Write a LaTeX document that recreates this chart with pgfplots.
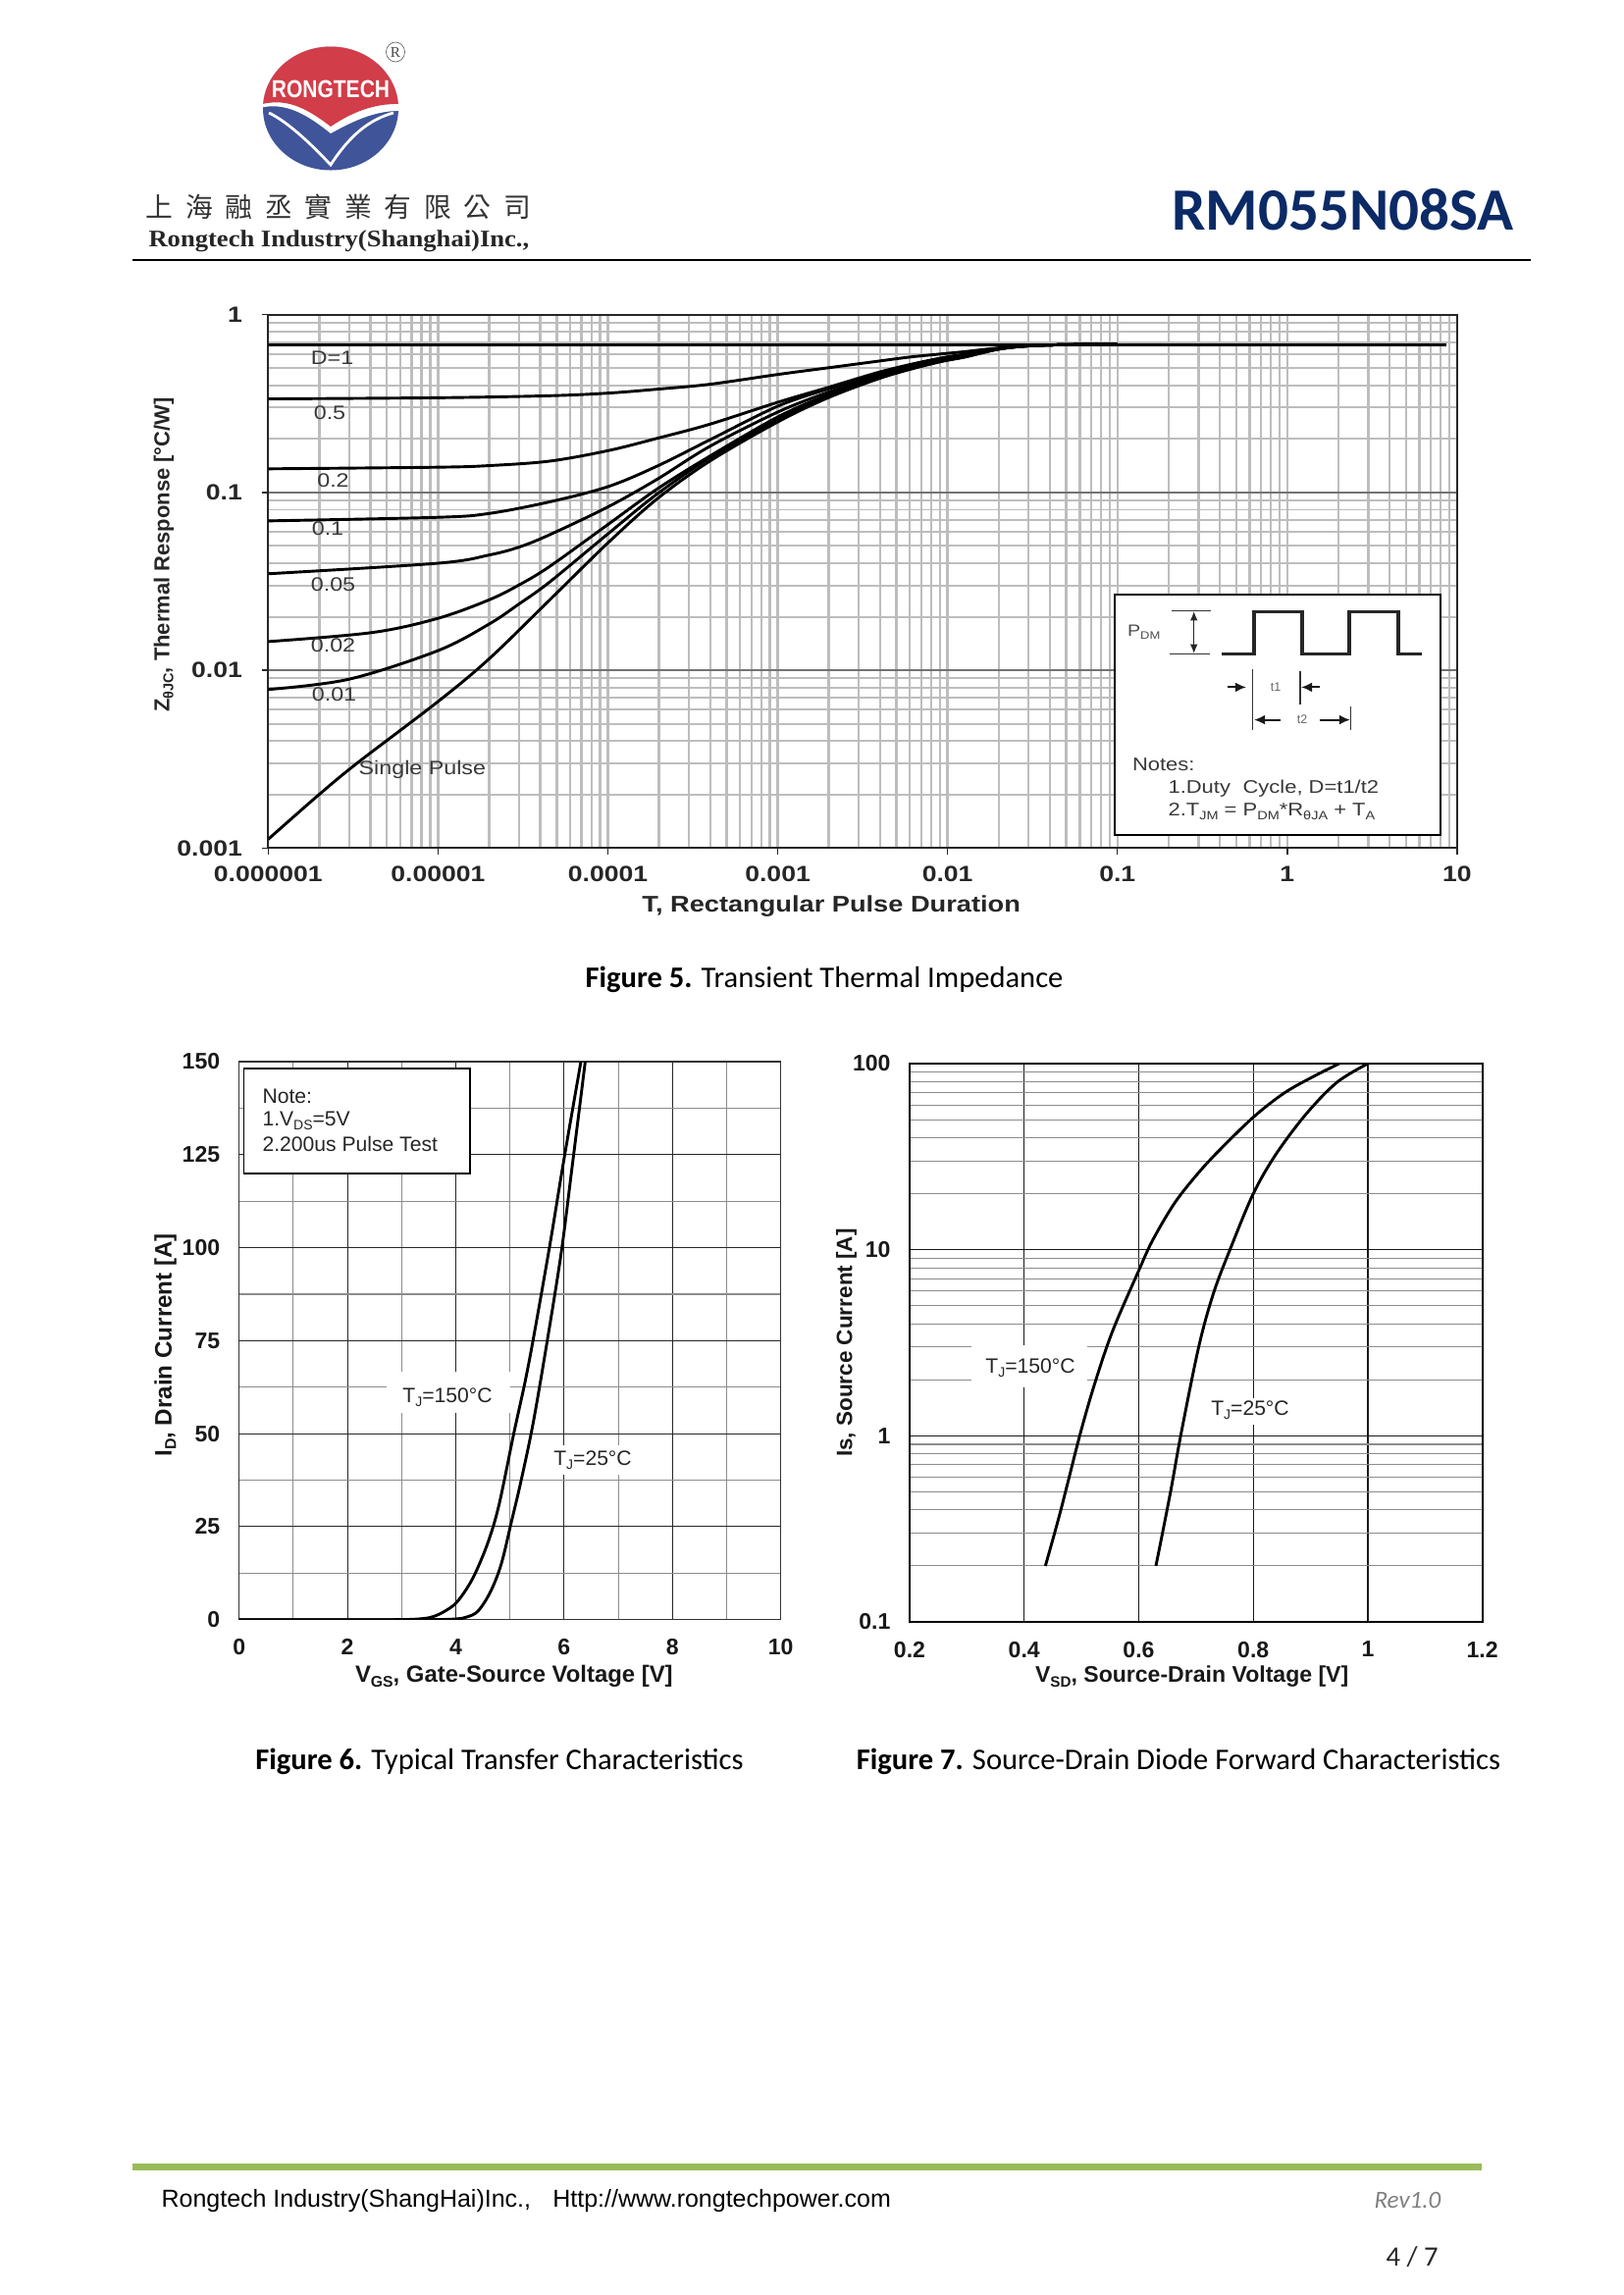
\documentclass[border=0pt]{standalone}
\usepackage{fontspec}
\usepackage{pgfplots}
\pgfplotsset{compat=1.18}
\usetikzlibrary{arrows.meta}
\setmainfont{Liberation Sans}
\newfontfamily\stretchf{Liberation Sans}[FakeStretch=1.18]
\newfontfamily\calib{Carlito}
\newfontfamily\serifb{Liberation Serif}
\newfontfamily\cjk{Noto Sans CJK TC}
\newcommand\fs[1]{\fontsize{#1}{#1}\selectfont}
\newcommand\sub[1]{\raisebox{-.35ex}{\scalebox{.66}{#1}}}
\definecolor{lred}{HTML}{D13D49}
\definecolor{lblue}{HTML}{40549A}
\definecolor{titleblue}{HTML}{0B2A66}
\definecolor{greenbar}{HTML}{9BBB59}
\definecolor{gridg}{HTML}{BDBDBD}
\tikzset{curve/.style={black,solid,mark=none,line width=1.05pt,smooth,tension=0.55,line join=round}}
\begin{document}
\begin{tikzpicture}
\begin{scope}[x=0.36pt,y=-0.36pt]
\fill[white] (0,0) rectangle (1654,2339);
% logo
\begin{scope}
\clip (337,110.5) ellipse [x radius=69, y radius=63];
\fill[lblue] (260,40) rectangle (410,180);
\fill[white] (260,111) .. controls (285,104) and (305,110) .. (337,136) .. controls (362,122) and (385,112) .. (410,113) -- (410,40) -- (260,40) -- cycle;
\fill[lred] (260,108) .. controls (285,100) and (305,104) .. (337,129) .. controls (362,112) and (385,105) .. (410,106) -- (410,40) -- (260,40) -- cycle;
\draw[white,line width=1pt] (274,115) .. controls (295,125) and (320,150) .. (337,168) .. controls (355,140) and (375,122) .. (401,115);
\end{scope}
\node[text=white,inner sep=0pt] at (337,91) {\fs{7.2}\bfseries\scalebox{1.05}[1.25]{RONGTECH}};
\draw[black!60,line width=.25pt] (403,53) ellipse [x radius=9.5, y radius=10];
\node[inner sep=0pt,text=black!70] at (403,53) {\serifb\fs{5.5}R};
% company name
\node[anchor=west,inner sep=0pt,text=black!80] at (148,211) {\cjk\fs{10}上\hspace{4.6pt}海\hspace{4.6pt}融\hspace{4.6pt}丞\hspace{4.6pt}實\hspace{4.6pt}業\hspace{4.6pt}有\hspace{4.6pt}限\hspace{4.6pt}公\hspace{4.6pt}司};
\node[anchor=west,inner sep=0pt,text=black!85] at (151,246) {\serifb\bfseries\fs{8.7}\scalebox{1.1}[1]{Rongtech Industry(Shanghai)Inc.,}};
\node[anchor=east,inner sep=0pt,text=titleblue] at (1543,214) {\calib\bfseries\fs{22}RM055N08SA};
\draw[black,line width=.8pt] (135,265) -- (1560,265);
% captions
\node[inner sep=0pt] at (840,998) {\calib\fs{11}\textbf{Figure 5.} Transient Thermal Impedance};
\node[inner sep=0pt] at (509,1795) {\calib\fs{11}\textbf{Figure 6.} Typical Transfer Characteristics};
\node[inner sep=0pt] at (1201,1795) {\calib\fs{11}\textbf{Figure 7.} Source-Drain Diode Forward Characteristics};
% footer
\fill[greenbar] (135,2205) rectangle (1510,2212);
\node[anchor=west,inner sep=0pt] at (164,2243.5) {\fs{9}Rongtech Industry(ShangHai)Inc.,\hspace{8pt}Http://www.rongtechpower.com};
\node[anchor=west,inner sep=0pt,text=black!50] at (1400,2242) {\calib\itshape\fs{9}Rev1.0};
\node[anchor=west,inner sep=0pt,text=black!85] at (1412,2300) {\calib\fs{10.3}4 / 7};
\end{scope}

% ---------------- Figure 5
\begin{axis}[
  at={(98.39pt,-311.15pt)},anchor=south west,scale only axis,
  width=436.2pt,height=195.7pt,
  xmode=log,ymode=log,
  xmin=1e-6,xmax=10,ymin=0.001,ymax=1,
  xtick={1e-6,1e-5,1e-4,1e-3,1e-2,1e-1,1,10},
  xticklabels={0.000001,0.00001,0.0001,0.001,0.01,0.1,1,10},
  ytick={0.001,0.01,0.1,1},
  yticklabels={0.001,0.01,0.1,1},
  minor xtick={2e-6,3e-6,4e-6,5e-6,6e-6,7e-6,8e-6,9e-6,2e-5,3e-5,4e-5,5e-5,6e-5,7e-5,8e-5,9e-5,2e-4,3e-4,4e-4,5e-4,6e-4,7e-4,8e-4,9e-4,2e-3,3e-3,4e-3,5e-3,6e-3,7e-3,8e-3,9e-3,2e-2,3e-2,4e-2,5e-2,6e-2,7e-2,8e-2,9e-2,0.2,0.3,0.4,0.5,0.6,0.7,0.8,0.9,2,3,4,5,6,7,8,9},
  minor ytick={2e-3,3e-3,4e-3,5e-3,6e-3,7e-3,8e-3,9e-3,2e-2,3e-2,4e-2,5e-2,6e-2,7e-2,8e-2,9e-2,0.2,0.3,0.4,0.5,0.6,0.7,0.8,0.9},
  grid=both,
  minor x grid style={gridg,line width=.85pt},
  major x grid style={gridg,line width=.85pt},
  minor y grid style={gridg,line width=.7pt},
  major y grid style={black!55,line width=.7pt},
  axis line style={black!85,line width=.6pt},
  tick style={black!85,line width=.5pt},
  major tick length=2.4pt,minor tick length=0pt,
  tick align=outside,xtick pos=bottom,ytick pos=left,
  tick label style={font=\stretchf\bfseries\fs{8.1},text=black!85},
  xticklabel style={yshift=-0.9pt},
  yticklabel style={xshift=-3.6pt},
  xlabel={\bfseries T, Rectangular Pulse Duration},
  xlabel style={font=\stretchf\fs{8.3},text=black!85,at={(axis description cs:0.5,0)},anchor=center,xshift=-11.5pt,yshift=-21.2pt},
  ylabel={\bfseries Z\sub{θJC}, Thermal Response [°C/W]},
  ylabel style={font=\fs{7.9},text=black!85,at={(axis description cs:0,0.5)},anchor=center,xshift=9.7pt,yshift=38.3pt},
]
\addplot[curve] coordinates {(1e-6,0.68) (1e-5,0.68) (1e-4,0.68) (1e-3,0.68) (1e-2,0.68) (1e-1,0.68) (1,0.68) (8.7,0.68)};
\addplot[curve] coordinates {(1e-6,0.336) (1e-5,0.341) (4.53e-5,0.350) (1e-4,0.362) (1.954e-4,0.381) (3.98e-4,0.406) (1e-3,0.461) (1.963e-3,0.502) (3.82e-3,0.546) (5.94e-3,0.577) (9.27e-3,0.602) (0.0127,0.62) (0.02,0.65) (0.03,0.668) (0.05,0.678) (0.1,0.68)};
\addplot[curve] coordinates {(1e-6,0.1358) (1e-5,0.1387) (2e-5,0.1416) (4.53e-5,0.150) (1e-4,0.1718) (1.954e-4,0.2017) (3.98e-4,0.242) (1e-3,0.3215) (1.963e-3,0.389) (3.82e-3,0.4706) (5.94e-3,0.523) (9.27e-3,0.572) (0.0127,0.60) (0.02,0.645) (0.03,0.668) (0.05,0.678) (0.1,0.68)};
\addplot[curve] coordinates {(1e-6,0.0692) (1e-5,0.0725) (2e-5,0.0762) (4.53e-5,0.0885) (1e-4,0.1078) (1.954e-4,0.1408) (3.98e-4,0.1976) (1e-3,0.3056) (1.963e-3,0.381) (3.82e-3,0.461) (5.94e-3,0.517) (9.27e-3,0.568) (0.0127,0.595) (0.02,0.643) (0.03,0.668) (0.05,0.678) (0.1,0.68)};
\addplot[curve] coordinates {(1e-6,0.0349) (1e-5,0.04) (2e-5,0.0445) (3e-5,0.0493) (4.53e-5,0.0578) (1e-4,0.0829) (1.954e-4,0.1188) (3.98e-4,0.1816) (1e-3,0.2832) (1.963e-3,0.3652) (3.82e-3,0.4513) (5.94e-3,0.508) (9.27e-3,0.5576) (0.0127,0.59) (0.02,0.642) (0.03,0.668) (0.05,0.678) (0.1,0.68)};
\addplot[curve] coordinates {(1e-6,0.0145) (4.09e-6,0.0163) (1e-5,0.0196) (2e-5,0.0249) (3e-5,0.0302) (4.53e-5,0.0383) (1e-4,0.066) (1.954e-4,0.1047) (3.98e-4,0.16) (1e-3,0.2658) (1.963e-3,0.353) (3.82e-3,0.4418) (5.94e-3,0.5017) (9.27e-3,0.553) (0.0127,0.585) (0.02,0.641) (0.03,0.668) (0.05,0.678) (0.1,0.68)};
\addplot[curve] coordinates {(1e-6,0.0078) (2.98e-6,0.0089) (1e-5,0.0129) (2e-5,0.0182) (3e-5,0.0236) (4.53e-5,0.0313) (1e-4,0.0585) (1.954e-4,0.0982) (3.98e-4,0.1565) (1e-3,0.258) (1.963e-3,0.347) (3.82e-3,0.436) (5.94e-3,0.4974) (9.27e-3,0.5483) (0.0127,0.58) (0.02,0.64) (0.03,0.668) (0.05,0.678) (0.1,0.68)};
\addplot[curve] coordinates {(1e-6,0.00112) (1.97e-6,0.00198) (3.38e-6,0.00303) (1e-5,0.00667) (2e-5,0.0116) (4.53e-5,0.0248) (1e-4,0.052) (1.954e-4,0.0922) (3.98e-4,0.15) (1e-3,0.2493) (1.963e-3,0.3397) (3.82e-3,0.4325) (5.94e-3,0.491) (9.27e-3,0.546) (0.0127,0.578) (0.02,0.64) (0.03,0.668) (0.05,0.678) (0.1,0.68)};
\end{axis}

\begin{scope}[x=0.36pt,y=-0.36pt]
\tikzset{lab/.style={inner sep=0pt,text=black!78,font=\stretchf\fs{7.1}}}
\node[lab] at (338.6,365) {D=1};
\node[lab] at (336,421) {0.5};
\node[lab] at (339.5,490) {0.2};
\node[lab] at (334,539) {0.1};
\node[lab] at (339.5,596) {0.05};
\node[lab] at (339.5,658) {0.02};
\node[lab] at (340.5,707.5) {0.01};
\node[lab] at (430.4,784) {Single Pulse};
% inset
\filldraw[fill=white,draw=black,line width=.7pt] (1136.3,606) rectangle (1468,851);
\draw[black!85,line width=1.15pt] (1245,666.8) -- (1278,666.8) -- (1278,623.7) -- (1327,623.7) -- (1327,666.8) -- (1375,666.8) -- (1375,623.7) -- (1425,623.7) -- (1425,666.8) -- (1448.6,666.8);
\draw[black!80,line width=.55pt] (1194,622.4) -- (1234,622.4) (1192,666.4) -- (1233,666.4);
\draw[black!85,line width=.5pt,{Latex[length=3.4pt,width=2.8pt]}-{Latex[length=3.4pt,width=2.8pt]}] (1216.7,623) -- (1216.7,666);
\node[inner sep=0pt,text=black!70] at (1165.7,644.4) {\stretchf\fs{6}P\sub{DM}};
\draw[black!80,line width=.45pt] (1276.7,681.7) -- (1276.7,744) (1325,683.8) -- (1325,718) (1376.7,720) -- (1376.7,744);
\draw[black!90,line width=.75pt,-{Latex[length=4pt,width=3.6pt]}] (1250.6,700.4) -- (1270,700.4);
\draw[black!90,line width=.75pt,-{Latex[length=4pt,width=3.6pt]}] (1345,700.4) -- (1326,700.4);
\draw[black!90,line width=.75pt,-{Latex[length=4pt,width=3.6pt]}] (1304.5,733.6) -- (1278,733.6);
\draw[black!90,line width=.75pt,-{Latex[length=4pt,width=3.6pt]}] (1344.5,733.6) -- (1376,733.6);
\node[inner sep=0pt,text=black!60] at (1300,700) {\fs{4.5}t1};
\node[inner sep=0pt,text=black!60] at (1327,733.6) {\fs{4.5}t2};
\node[lab,anchor=west,font=\stretchf\fs{6.7}] at (1153.5,779) {Notes:};
\node[lab,anchor=west,font=\stretchf\fs{6.7}] at (1190,803.3) {1.Duty\hspace{.35em} Cycle, D=t1/t2};
\node[lab,anchor=west,font=\stretchf\fs{6.7}] at (1190,827) {2.T\sub{JM} = P\sub{DM}*R\sub{θJA} + T\sub{A}};
\end{scope}

% ---------------- Figure 6
\begin{axis}[
  at={(87.73pt,-594.25pt)},anchor=south west,scale only axis,
  width=198.72pt,height=204.73pt,
  xmin=0,xmax=10,ymin=0,ymax=150,
  xtick={0,2,4,6,8,10},xticklabels={0,2,4,6,8,10},
  ytick={0,25,50,75,100,125,150},yticklabels={0,25,50,75,100,125,150},
  minor xtick={1,3,5,7,9},
  minor ytick={12.5,37.5,62.5,87.5,112.5,137.5},
  grid=both,
  minor grid style={black!45,line width=.4pt},
  major grid style={black!85,line width=.4pt},
  axis line style={black!80,line width=.5pt},
  major tick length=0pt,minor tick length=0pt,
  tick label style={font=\bfseries\fs{8.3},text=black!90},
  xticklabel style={yshift=-3.6pt},
  yticklabel style={xshift=-3.5pt},
  xlabel={\bfseries V\sub{GS}, Gate-Source Voltage [V]},
  xlabel style={font=\fs{8.6},text=black!90,at={(axis description cs:0.5,0)},anchor=center,xshift=1.5pt,yshift=-20.8pt},
  ylabel={\bfseries I\sub{D}, Drain Current [A]},
  ylabel style={font=\fs{8.7},text=black!90,at={(axis description cs:0,0.5)},anchor=center,xshift=-1.6pt,yshift=27pt},
]
\addplot[curve] coordinates {(0,0) (1,0) (2,0) (3,0.02) (3.4,0.3) (3.6,0.9) (3.8,2.3) (4,4.4) (4.2,8.3) (4.37,12.8) (4.6,21) (4.8,31) (5.07,50) (5.28,64) (5.45,77) (5.74,101) (6.0,124) (6.31,150)};
\addplot[curve] coordinates {(0,0) (2,0) (3.5,0) (4,0.2) (4.2,0.7) (4.41,2.3) (4.64,7.5) (4.84,15) (5.03,26.5) (5.2,37) (5.43,53) (5.70,76) (5.95,99) (6.15,122) (6.39,150)};
\end{axis}

\begin{scope}[x=0.36pt,y=-0.36pt]
\filldraw[fill=white,draw=black,line width=.6pt] (248.4,1089) rectangle (479,1196);
\node[anchor=west,inner sep=0pt,text=black!85] at (267,1117.7) {\fs{7.6}Note:};
\node[anchor=west,inner sep=0pt,text=black!85] at (267,1142) {\fs{7.6}1.V\sub{DS}=5V};
\node[anchor=west,inner sep=0pt,text=black!85] at (267,1166) {\fs{7.6}2.200us Pulse Test};
\fill[white] (394,1398) rectangle (520,1440);
\node[inner sep=0pt,text=black!85] at (456,1424) {\fs{7.6}T\sub{J}=150°C};
\fill[white] (558,1473) rectangle (647,1503);
\node[inner sep=0pt,text=black!85] at (604,1488) {\fs{7.6}T\sub{J}=25°C};
\end{scope}

% ---------------- Figure 7
\begin{axis}[
  at={(333.72pt,-595.08pt)},anchor=south west,scale only axis,
  width=210.13pt,height=204.84pt,
  xmin=0.2,xmax=1.2,ymode=log,ymin=0.1,ymax=100,
  xtick={0.2,0.4,0.6,0.8,1,1.2},xticklabels={0.2,0.4,0.6,0.8,1,1.2},
  ytick={0.1,1,10,100},yticklabels={0.1,1,10,100},
  minor ytick={0.2,0.3,0.4,0.5,0.6,0.7,0.8,0.9,2,3,4,5,6,7,8,9,20,30,40,50,60,70,80,90},
  ymajorgrids,yminorgrids,xmajorgrids,
  minor y grid style={black!45,line width=.4pt},
  major grid style={black!90,line width=.4pt},
  axis line style={black,line width=.8pt},
  major tick length=0pt,minor tick length=0pt,
  tick label style={font=\bfseries\fs{8.3},text=black!90},
  xticklabel style={yshift=-3.7pt},
  yticklabel style={xshift=-3.5pt},
  xlabel={\bfseries V\sub{SD}, Source-Drain Voltage [V]},
  xlabel style={font=\fs{8.3},text=black!90,at={(axis description cs:0.5,0)},anchor=center,xshift=-1.5pt,yshift=-20.1pt},
  ylabel={\bfseries Is, Source Current [A]},
  ylabel style={font=\fs{8.1},text=black!90,at={(axis description cs:0,0.5)},anchor=center,xshift=0pt,yshift=23.2pt},
]
\addplot[curve] coordinates {(0.437,0.2) (0.463,0.389) (0.498,1.03) (0.525,1.99) (0.555,3.7) (0.599,7.6) (0.624,11.2) (0.662,17.7) (0.701,25.2) (0.739,33.8) (0.8,51.5) (0.854,69.5) (0.907,85.9) (0.95,100)};
\addplot[curve] coordinates {(0.63,0.2) (0.655,0.49) (0.674,1.03) (0.705,3.03) (0.731,5.9) (0.762,10.5) (0.8,20) (0.839,32.4) (0.892,53.5) (0.946,79.3) (1,100)};
\end{axis}

\begin{scope}[x=0.36pt,y=-0.36pt]
\fill[white] (990,1371) rectangle (1108,1414);
\node[inner sep=0pt,text=black!85] at (1050,1394) {\fs{7.6}T\sub{J}=150°C};
\fill[white] (1236,1425) rectangle (1310,1452);
\node[inner sep=0pt,text=black!85] at (1274,1437) {\fs{7.6}T\sub{J}=25°C};
\end{scope}
\end{tikzpicture}
\end{document}
